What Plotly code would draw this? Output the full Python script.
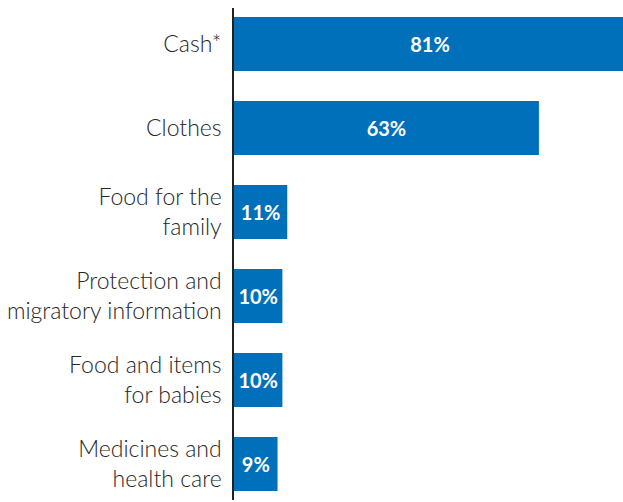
import plotly.graph_objects as go

# Survey responses: items most needed, share of respondents (%)
categories = [
    "Cash*",
    "Clothes",
    "Food for the<br>family",
    "Protection and<br>migratory information",
    "Food and items<br>for babies",
    "Medicines and<br>health care",
]
values = [81, 63, 11, 10, 10, 9]
value_labels = [f"{v}%" for v in values]

BAR_COLOR = "#0070BB"
TEXT_COLOR = "#262626"
FONT = "Lato, 'Open Sans', sans-serif"

fig = go.Figure(
    go.Bar(
        x=values,
        y=categories,
        orientation="h",
        marker=dict(color=BAR_COLOR, line=dict(width=0)),
        text=value_labels,
        textposition="inside",
        insidetextanchor="middle",
        textangle=0,
        textfont=dict(family=FONT, size=20, color="white", weight="bold"),
        cliponaxis=True,
        hoverinfo="skip",
    )
)

fig.update_layout(
    width=623,
    height=502,
    margin=dict(l=234, r=0, t=8, b=2),
    paper_bgcolor="white",
    plot_bgcolor="white",
    bargap=0.357,
    showlegend=False,
    uniformtext=dict(mode=False),
    font=dict(family=FONT, color=TEXT_COLOR),
)

fig.update_xaxes(
    range=[0, 80.37],
    visible=False,
    fixedrange=True,
)

fig.update_yaxes(
    categoryorder="array",
    categoryarray=categories,
    range=[5.43, -0.43],
    showline=True,
    linecolor="#222222",
    linewidth=1.5,
    showgrid=False,
    zeroline=False,
    ticks="",
    ticklabelstandoff=6,
    tickfont=dict(family=FONT, size=23, color=TEXT_COLOR, weight=300),
)

fig.write_html("out.html")
